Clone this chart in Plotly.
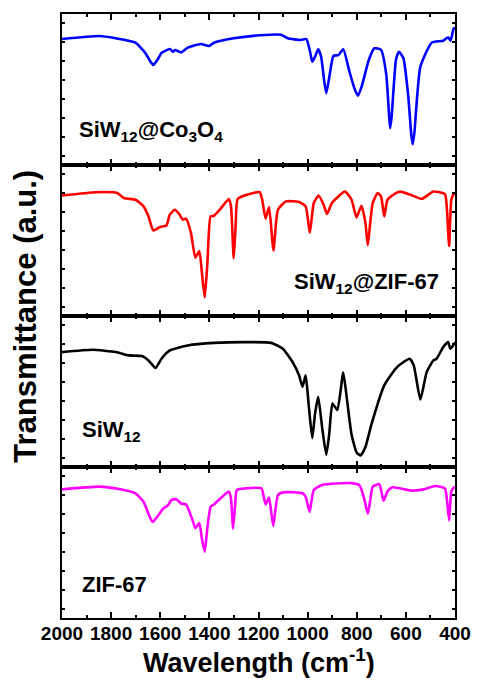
import plotly.graph_objects as go
from plotly.subplots import make_subplots

# ---- data (wavenumber cm-1, transmittance a.u.) ----
co3o4_x = [2000, 1848, 1781, 1701, 1661, 1640, 1628, 1612, 1595, 1561, 1548, 1540, 1515, 1488, 1435, 1401, 1381,
           1301, 1195, 1108, 1081, 1028, 1005, 990, 981, 970, 957, 945, 932, 924, 912, 895, 875, 855, 830, 808, 795,
           780, 750, 728, 701, 680, 668, 664, 658, 640, 628, 610, 590, 578, 572, 565, 541, 495, 448, 428, 418, 405, 400]
co3o4_y = [83.4, 85.4, 83.9, 81.0, 74.2, 68.5, 66.2, 69.5, 74.2, 76.8, 75.0, 76.2, 74.6, 77.7, 80.1, 78.8, 81.0,
           83.9, 85.9, 86.3, 83.9, 82.8, 83.4, 75.0, 68.4, 71.7, 76.6, 71.7, 55.0, 47.5, 58.0, 72.2, 72.8, 76.6, 62.0, 50.0, 45.9,
           52.0, 70.0, 77.3, 76.2, 60.0, 32.0, 24.3, 32.0, 70.0, 75.0, 70.7, 45.0, 20.0, 13.7, 22.0, 65.1, 81.0, 82.3, 84.6, 82.3, 90.5, 90.5]

zif_co_x = [2000, 1861, 1775, 1748, 1701, 1668, 1648, 1628, 1601, 1575, 1561, 1541, 1521, 1508, 1495, 1475, 1457,
            1441, 1430, 1419, 1408, 1395, 1381, 1355, 1321, 1312, 1301, 1293, 1285, 1248, 1195, 1185, 1171, 1157, 1139,
            1121, 1088, 1035, 1008, 991, 975, 955, 935, 921, 901, 848, 821, 801, 781, 765, 755, 745, 735, 715, 701, 688,
            675, 641, 621, 581, 535, 488, 441, 432, 424, 415, 405, 400]
zif_co_y = [79.8, 82.0, 81.4, 78.1, 77.0, 72.6, 66.0, 56.6, 59.0, 59.9, 67.1, 70.4, 67.1, 63.8, 64.5, 55.1, 38.6,
            43.0, 28.0, 12.3, 35.0, 66.0, 66.4, 70.9, 77.4, 72.6, 38.2, 60.0, 77.4, 80.3, 82.0, 77.0, 64.5, 72.2, 43.4,
            70.4, 75.9, 75.5, 72.6, 55.1, 74.8, 79.8, 73.7, 67.6, 74.8, 82.4, 77.0, 65.3, 73.0, 62.0, 46.9, 62.0, 74.8, 81.4, 79.1, 66.0,
            77.0, 81.4, 82.4, 80.3, 77.6, 82.4, 80.7, 68.4, 46.3, 77.0, 80.9, 80.9]

siw_x = [2000, 1875, 1781, 1728, 1675, 1648, 1619, 1595, 1561, 1488, 1381, 1248, 1148, 1101, 1061, 1035, 1021,
         1008, 995, 981, 970, 957, 940, 924, 912, 899, 879, 855, 840, 821, 800, 784, 765, 741, 688, 635, 585, 568, 541,
         515, 488, 475, 448, 428, 419, 401, 400]
siw_y = [76.1, 77.6, 76.1, 73.9, 73.5, 70.6, 65.6, 71.7, 77.2, 80.5, 82.2, 82.7, 82.2, 78.3, 69.5, 60.7, 53.1,
         60.7, 40.0, 19.1, 35.0, 46.5, 25.0, 8.1, 22.0, 42.1, 37.7, 62.5, 45.0, 21.3, 9.5, 7.7, 13.0, 27.8, 54.1, 66.3, 71.7, 67.3, 44.7,
         63.0, 70.6, 71.7, 79.4, 82.7, 78.3, 82.0, 82.0]

zif_x = [2000, 1848, 1768, 1701, 1668, 1648, 1631, 1608, 1588, 1568, 1555, 1535, 1515, 1495, 1468, 1457, 1441,
         1430, 1419, 1408, 1395, 1381, 1355, 1321, 1312, 1304, 1295, 1288, 1248, 1188, 1180, 1171, 1157, 1140, 1121,
         1101, 1021, 1008, 992, 975, 941, 821, 788, 770, 755, 745, 735, 708, 691, 675, 655, 581, 528, 481, 441, 432,
         424, 415, 405, 400]
zif_y = [85.2, 87.0, 85.4, 82.6, 77.0, 69.1, 63.6, 68.0, 72.5, 74.7, 78.1, 78.7, 75.8, 75.2, 64.6, 59.5, 62.9,
         52.0, 43.8, 60.0, 73.6, 75.2, 79.2, 83.7, 79.2, 59.1, 75.0, 84.8, 85.9, 85.9, 81.4, 75.2, 79.7, 60.9, 81.4,
         83.2, 82.6, 80.3, 70.3, 84.8, 88.1, 89.3, 87.7, 79.2, 69.1, 78.0, 87.0, 88.6, 77.7, 83.7, 86.6, 84.4, 85.2, 87.4, 85.9, 77.0,
         64.6, 83.7, 86.4, 86.4]

series = [
    ("SiW<sub>12</sub>@Co<sub>3</sub>O<sub>4</sub>", co3o4_x, co3o4_y, "#0000FF"),
    ("SiW<sub>12</sub>@ZIF-67", zif_co_x, zif_co_y, "#FF0000"),
    ("SiW<sub>12</sub>", siw_x, siw_y, "#000000"),
    ("ZIF-67", zif_x, zif_y, "#FF00FF"),
]
x_ticks = [2000, 1800, 1600, 1400, 1200, 1000, 800, 600, 400]

FONT = "Liberation Sans, Arial, sans-serif"

fig = make_subplots(rows=4, cols=1, shared_xaxes=True, vertical_spacing=0)

for i, (name, xs, ys, col) in enumerate(series, start=1):
    fig.add_trace(go.Scatter(x=xs, y=ys, mode="lines", name=name,
                             line=dict(color=col, width=2.6, shape="spline", smoothing=0.5),
                             showlegend=False), row=i, col=1)
    fig.update_xaxes(range=[2000, 400], tickvals=x_ticks, ticktext=[str(v) for v in x_ticks],
                     ticks="inside", ticklen=6, tickwidth=1.5, tickcolor="black",
                     minor=dict(ticks="inside", dtick=100, tick0=0, ticklen=3, tickwidth=1.5, tickcolor="black"),
                     showline=True, linecolor="black", linewidth=1.8, mirror="allticks",
                     showgrid=False, zeroline=False,
                     showticklabels=(i == 4), ticklabelstandoff=-3,
                     tickfont=dict(family=FONT, size=19, color="black", weight="bold"),
                     row=i, col=1)
    fig.update_yaxes(range=[0, 100], tick0=5.8, dtick=12.6, ticks="inside", ticklen=3, tickwidth=1.5,
                     tickcolor="black", showticklabels=False,
                     showline=True, linecolor="black", linewidth=1.8, mirror="allticks",
                     showgrid=False, zeroline=False, row=i, col=1)

label_pos = [
    (0.0375, 0.806, "left"),
    (0.965, 0.555, "right"),
    (0.047, 0.310, "left"),
    (0.045, 0.056, "left"),
]
for (name, _, _, _), (lx, ly, anc) in zip(series, label_pos):
    fig.add_annotation(x=lx, y=ly, xref="paper", yref="paper", text="<b>%s</b>" % name,
                       showarrow=False, xanchor=anc, yanchor="middle",
                       font=dict(family=FONT, size=22, color="black"))

fig.add_annotation(x=-0.095, y=0.5, xref="paper", yref="paper", text="<b>Transmittance (a.u.)</b>",
                   textangle=-90, showarrow=False, xanchor="center", yanchor="middle",
                   font=dict(family=FONT, size=31, color="black"))
fig.add_annotation(x=0.5, y=-0.072, xref="paper", yref="paper", text="<b>Wavelength (cm<sup>-1</sup>)</b>",
                   showarrow=False, xanchor="center", yanchor="middle",
                   font=dict(family=FONT, size=27, color="black"))

fig.update_layout(width=483, height=686, margin=dict(l=62, r=21, t=14, b=68),
                  plot_bgcolor="white", paper_bgcolor="white")

fig.write_html("out.html")
